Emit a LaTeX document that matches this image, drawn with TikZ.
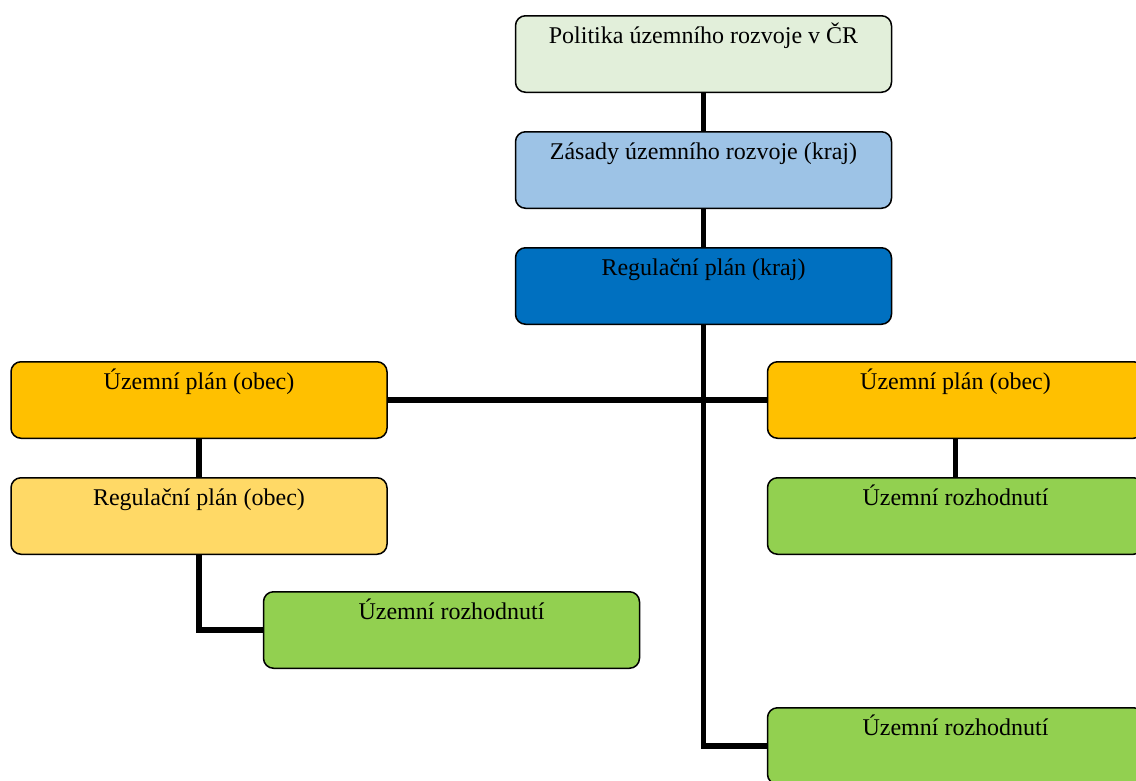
\documentclass[tikz,border=0pt]{standalone}
\usepackage{fontspec}
\setmainfont{Liberation Serif}
\usepackage{xcolor}
\usetikzlibrary{positioning}
\definecolor{polgreen}{HTML}{E2EFDA}
\definecolor{zasblue}{HTML}{9DC3E6}
\definecolor{regblue}{HTML}{0070C0}
\definecolor{planorange}{HTML}{FFC000}
\definecolor{regyellow}{HTML}{FFD966}
\definecolor{decgreen}{HTML}{92D050}

\begin{document}
\begin{tikzpicture}[x=1pt,y=1pt,
  box/.style={draw,rounded corners=10pt,line width=1.5pt,minimum width=376pt,
    inner xsep=4pt,inner ysep=8pt,text height=20pt,text depth=40.5pt,
    font=\fontsize{24}{29}\selectfont},
  link/.style={line width=5.5pt}]
  \useasboundingbox (0,0) rectangle (1136,-780);
  % Level of the state and the region
  \node[box,fill=polgreen] (pol) at (703.5,-54) {Politika územního rozvoje v ČR};
  \node[box,fill=zasblue,below=38pt of pol] (zas) {Zásady územního rozvoje (kraj)};
  \node[box,fill=regblue,below=38pt of zas] (regk) {Regulační plán (kraj)};
  % Level of the municipality
  \node[box,fill=planorange] (upL) at (199,-400) {Územní plán (obec)};
  \node[box,fill=planorange] (upR) at (955.5,-400) {Územní plán (obec)};
  \node[box,fill=regyellow,below=38pt of upL] (rpO) {Regulační plán (obec)};
  \node[box,fill=decgreen,below=38pt of upR] (urR) {Územní rozhodnutí};
  \node[box,fill=decgreen] (urL) at (451.5,-630) {Územní rozhodnutí};
  \node[box,fill=decgreen] (urB) at (955.5,-746) {Územní rozhodnutí};
  % Connectors
  \draw[link] (pol.south) -- (zas.north);
  \draw[link] (zas.south) -- (regk.north);
  \draw[link] (regk.south) |- (urB.west);
  \draw[link] (upL.east) -- (upR.west);
  \draw[link] (upL.south) -- (rpO.north);
  \draw[link] (upR.south) -- (urR.north);
  \draw[link] (rpO.south) |- (urL.west);
\end{tikzpicture}
\end{document}
